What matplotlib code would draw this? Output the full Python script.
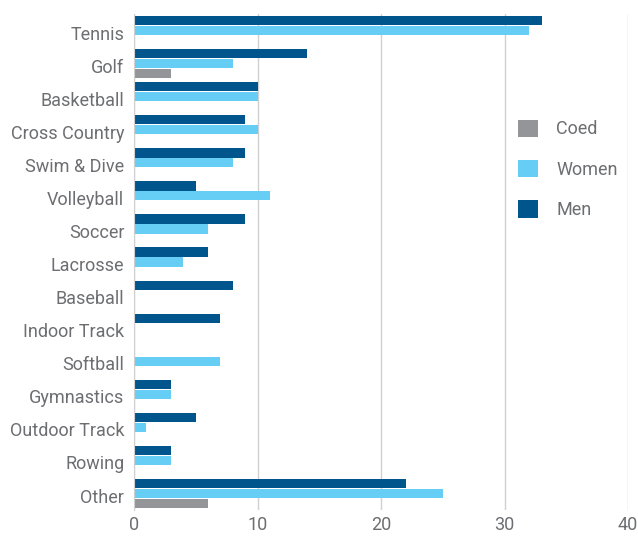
import numpy as np
import matplotlib
matplotlib.use('Agg')
import matplotlib.pyplot as plt
import matplotlib.transforms as mtrans

# Données
sports = ["Tennis", "Golf", "Basketball", "Cross Country", "Swim & Dive",
          "Volleyball", "Soccer", "Lacrosse", "Baseball", "Indoor Track",
          "Softball", "Gymnastics", "Outdoor Track", "Rowing", "Other"]
men   = [33, 14, 10, 9, 9, 5, 9, 6, 8, 7, 0, 3, 5, 3, 22]
women = [32, 8, 10, 10, 8, 11, 6, 4, 0, 0, 7, 3, 1, 3, 25]
coed  = [0, 3, 0, 0, 0, 0, 0, 0, 0, 0, 0, 0, 0, 0, 6]

C_MEN   = "#00568C"
C_WOMEN = "#66CEF4"
C_COED  = "#939598"
GREY_TXT = "#6D6E71"

plt.rcParams['font.family'] = ['Roboto', 'DejaVu Sans']

fig = plt.figure(figsize=(6.38, 5.36), dpi=100)
ax = fig.add_axes([134/638, 26/536, 494/638, 496/536])

y = np.arange(len(sports))
off = 0.30
h = 0.28
ax.barh(y + off, coed, height=h, color=C_COED, label="Coed")
ax.barh(y, women, height=h, color=C_WOMEN, label="Women")
ax.barh(y - off, men, height=h, color=C_MEN, label="Men")

ax.set_ylim(len(sports) - 0.5, -0.5)
ax.set_xlim(0, 40)
ax.set_xticks([0, 10, 20, 30, 40])
ax.set_yticks(y)
ax.set_yticklabels(sports)
ax.tick_params(axis='both', length=0, labelsize=13, colors=GREY_TXT)
ax.tick_params(axis='y', pad=7)
ax.tick_params(axis='x', pad=4)
# labels un peu plus bas, comme dans l'original
shift = mtrans.ScaledTranslation(0, -1.5/72, fig.dpi_scale_trans)
for lab in ax.get_yticklabels():
    lab.set_transform(lab.get_transform() + shift)
ax.grid(True, axis='x', color="#D0D0D0", lw=1)
ax.set_axisbelow(True)
for s in ["top", "right", "bottom"]:
    ax.spines[s].set_visible(False)
ax.spines["left"].set_color("#D0D0D0")

leg = ax.legend(loc="upper left", bbox_to_anchor=(0.745, 0.82), frameon=False,
                fontsize=13, handlelength=1.1, handleheight=1.1,
                labelspacing=1.2, handletextpad=1.0)
for t in leg.get_texts():
    t.set_color(GREY_TXT)

fig.savefig("out.png", dpi=100)
